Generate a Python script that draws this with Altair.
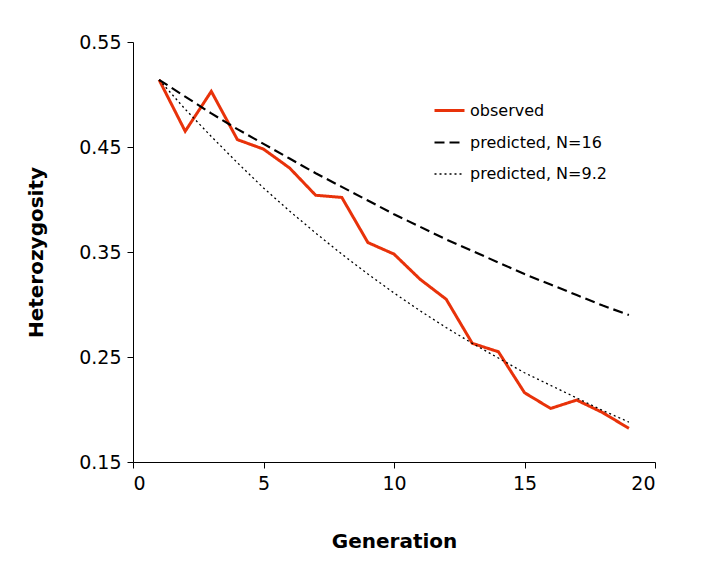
import altair as alt
import pandas as pd

generation = list(range(1, 20))
observed = [0.514, 0.465, 0.503, 0.457, 0.448, 0.430, 0.404, 0.402, 0.359, 0.348,
            0.324, 0.305, 0.263, 0.255, 0.216, 0.201, 0.209, 0.197, 0.182]
pred_16 = [0.514, 0.498, 0.482, 0.467, 0.453, 0.439, 0.425, 0.412, 0.399, 0.386,
           0.374, 0.362, 0.351, 0.340, 0.329, 0.319, 0.309, 0.299, 0.290]
pred_92 = [0.514, 0.486, 0.460, 0.435, 0.411, 0.389, 0.368, 0.348, 0.329, 0.311,
           0.294, 0.278, 0.263, 0.249, 0.235, 0.223, 0.211, 0.199, 0.188]
series = ["observed", "predicted, N=16", "predicted, N=9.2"]

rows = []
for name, vals in zip(series, [observed, pred_16, pred_92]):
    for g, v in zip(generation, vals):
        rows.append({"generation": g, "H": v, "series": name})
df = pd.DataFrame(rows)

chart = (
    alt.Chart(df)
    .mark_line()
    .encode(
        x=alt.X("generation:Q", title="Generation",
                scale=alt.Scale(domain=[0, 20]),
                axis=alt.Axis(values=[0, 5, 10, 15, 20], grid=False)),
        y=alt.Y("H:Q", title="Heterozygosity",
                scale=alt.Scale(domain=[0.15, 0.55]),
                axis=alt.Axis(values=[0.15, 0.25, 0.35, 0.45, 0.55], format=".2f", grid=False)),
        color=alt.Color("series:N", sort=series,
                        scale=alt.Scale(domain=series, range=["#e8320a", "black", "black"]),
                        legend=alt.Legend(title=None, orient="none", legendX=300, legendY=52,
                                          symbolType="stroke", symbolSize=900,
                                          labelFontSize=16, rowPadding=7)),
        strokeDash=alt.StrokeDash("series:N", sort=series,
                                  scale=alt.Scale(domain=series, range=[[1, 0], [10, 5], [2, 3]]),
                                  legend=None),
        strokeWidth=alt.StrokeWidth("series:N", sort=series,
                                    scale=alt.Scale(domain=series, range=[3, 1.3, 1.3]),
                                    legend=None),
    )
    .properties(width=522, height=420, autosize="none",
                padding={"left": 125, "top": 34, "right": 44, "bottom": 91})
    .configure_view(stroke=None)
    .configure_axis(labelFont="DejaVu Sans", titleFont="DejaVu Sans", labelFontSize=19,
                    titleFontSize=20, titleFontWeight="bold", labelColor="black",
                    titleColor="black", domainColor="black", tickColor="black",
                    labelPadding=6, tickSize=6)
    .configure_axisY(titlePadding=32)
    .configure_axisX(titlePadding=38)
    .configure_legend(labelFont="DejaVu Sans", labelColor="black")
)

chart.save("out.html", embed_options={"renderer": "svg", "actions": False})
